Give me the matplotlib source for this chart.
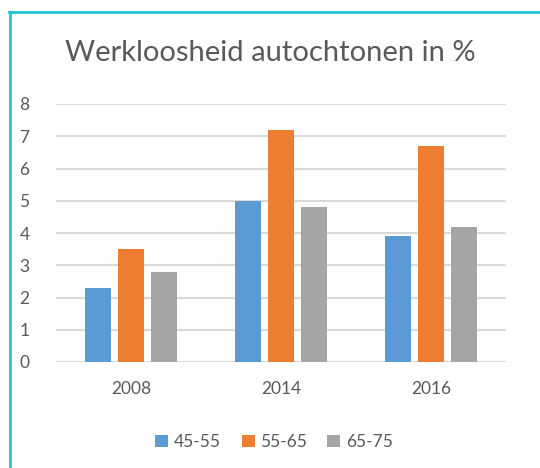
import matplotlib
matplotlib.use("Agg")
import matplotlib.pyplot as plt
import numpy as np
from matplotlib.patches import Patch
from matplotlib.lines import Line2D

categories = ["2008", "2014", "2016"]
series_names = ["45-55", "55-65", "65-75"]
s_45_55 = [2.3, 5.0, 3.9]
s_55_65 = [3.5, 7.2, 6.7]
s_65_75 = [2.8, 4.8, 4.2]
yticks = [0, 1, 2, 3, 4, 5, 6, 7, 8]

colors = ["#5b9bd5", "#ed7d31", "#a5a5a5"]
txt = "#595959"
plt.rcParams['font.family'] = ['Lato', 'DejaVu Sans']

W, H = 540, 468
fig = plt.figure(figsize=(W / 100, H / 100), dpi=100)
ax = fig.add_axes([56 / W, 1 - 362 / H, 450 / W, 258 / H])

x = np.arange(len(categories))
bw = 26 / 150
step = 33 / 150
for i, (vals, c) in enumerate(zip([s_45_55, s_55_65, s_65_75], colors)):
    ax.bar(x + (i - 1) * step, vals, width=bw, color=c, zorder=3, label=series_names[i])

ax.set_xlim(-0.5, 2.5)
ax.set_ylim(0, 8)
ax.set_yticks(yticks)
ax.set_xticks(x)
ax.set_xticklabels(categories)
ax.grid(axis='y', color='#d9d9d9', linewidth=1.5, zorder=0)
for s in ax.spines.values():
    s.set_visible(False)
ax.tick_params(axis='both', length=0, labelsize=12.5, labelcolor=txt)
ax.tick_params(axis='y', pad=19)
ax.tick_params(axis='x', pad=14)

fig.text(270 / W, 1 - 53 / H, "Werkloosheid autochtonen in %", ha='center', va='center',
         fontsize=21, color=txt)

handles = [Patch(facecolor=c, edgecolor='none') for c in colors]
fig.legend(handles, series_names, loc='center', bbox_to_anchor=(274 / W, 1 - 442 / H),
           ncol=3, frameon=False, fontsize=12.5, labelcolor=txt, handlelength=0.75,
           handleheight=0.75, handletextpad=0.3, columnspacing=1.2)

border = "#22c5d6"
fig.add_artist(Line2D([10 / W, 10 / W], [0, 1 - 12 / H], color=border, linewidth=2,
                      transform=fig.transFigure))
fig.add_artist(Line2D([9 / W, 1], [1 - 12 / H, 1 - 12 / H], color=border, linewidth=2,
                      transform=fig.transFigure))

fig.savefig("out.png", dpi=100)
